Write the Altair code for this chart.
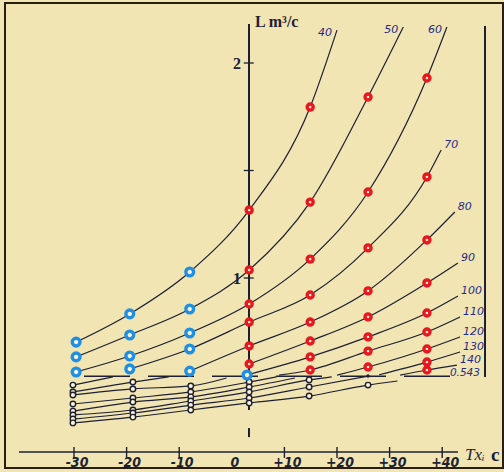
import altair as alt
import pandas as pd

CREAM = "#F1E5B3"
HOLE = "#FBF3D6"
INK = "#1d1f33"
RED = "#E8161E"
BLUE = "#1E8FE6"
NAVY = "#1f2b86"
FRAME = "#2a1d12"

# Scale extents (temperature, °C / flow L, m3/c)
T_MIN, T_MAX = -43.12, 51.56
L_MIN, L_MAX = 0.1163, 2.279

# ---- upper family of curves: temperature, L, marker ('b' blue, 'r' red, '' none)
t_40 = [-29.6, -19.4, -8.0, 3.3, 14.9, 20.0]
l_40 = [0.702, 0.833, 1.028, 1.316, 1.795, 2.153]
k_40 = ["b", "b", "b", "r", "r", ""]

t_50 = [-29.6, -19.4, -8.0, 3.3, 14.9, 25.9, 32.6]
l_50 = [0.633, 0.735, 0.856, 1.037, 1.353, 1.842, 2.167]
k_50 = ["b", "b", "b", "r", "r", "r", ""]

t_60 = [-29.6, -19.4, -8.0, 3.3, 14.9, 25.9, 37.1, 40.9]
l_60 = [0.563, 0.637, 0.744, 0.879, 1.088, 1.400, 1.930, 2.167]
k_60 = ["b", "b", "b", "r", "r", "r", "r", ""]

t_70 = [-19.4, -8.0, 3.3, 14.9, 25.9, 37.1, 39.8]
l_70 = [0.577, 0.670, 0.795, 0.921, 1.140, 1.470, 1.595]
k_70 = ["b", "b", "r", "r", "r", "r", ""]

t_80 = [-8.0, 3.3, 14.9, 25.9, 37.1, 42.4]
l_80 = [0.567, 0.684, 0.795, 0.940, 1.177, 1.307]
k_80 = ["b", "r", "r", "r", "r", ""]

t_90 = [3.3, 14.9, 25.9, 37.1, 43.0]
l_90 = [0.600, 0.707, 0.819, 0.977, 1.070]
k_90 = ["r", "r", "r", "r", ""]

t_100 = [2.9, 14.9, 25.9, 37.1, 43.0]
l_100 = [0.549, 0.633, 0.726, 0.837, 0.916]
k_100 = ["b", "r", "r", "r", ""]

t_110 = [9.0, 14.9, 25.9, 37.1, 43.4]
l_110 = [0.548, 0.572, 0.660, 0.749, 0.819]
k_110 = ["", "r", "r", "r", ""]

t_120 = [20.0, 25.9, 37.1, 43.4]
l_120 = [0.548, 0.586, 0.670, 0.726]
k_120 = ["", "r", "r", ""]

t_130 = [28.0, 37.1, 43.4]
l_130 = [0.550, 0.609, 0.656]
k_130 = ["", "r", ""]

t_140 = [32.0, 37.1, 42.8]
l_140 = [0.548, 0.572, 0.595]
k_140 = ["", "r", ""]

upper = [
    ("40", t_40, l_40, k_40, "top"),
    ("50", t_50, l_50, k_50, "top"),
    ("60", t_60, l_60, k_60, "top"),
    ("70", t_70, l_70, k_70, "side"),
    ("80", t_80, l_80, k_80, "side"),
    ("90", t_90, l_90, k_90, "side"),
    ("100", t_100, l_100, k_100, "side"),
    ("110", t_110, l_110, k_110, "side"),
    ("120", t_120, l_120, k_120, "side"),
    ("130", t_130, l_130, k_130, "side"),
    ("140", t_140, l_140, k_140, "side"),
]

# ---- lower family below the 0.543 line ('k' open black ring, 'd' dot)
t_b1 = [-30.2, -22.6]
l_b1 = [0.502, 0.540]
t_b2 = [-30.2, -18.8, -12.0]
l_b2 = [0.470, 0.516, 0.540]
t_b3 = [-30.2, -18.8, -7.8, -1.0]
l_b3 = [0.456, 0.484, 0.498, 0.535]
t_b4 = [-30.2, -18.8, -7.8, 3.3, 8.5]
l_b4 = [0.414, 0.442, 0.470, 0.516, 0.540]
t_b5 = [-30.2, -18.8, -7.8, 3.3, 12.0]
l_b5 = [0.381, 0.423, 0.447, 0.493, 0.535]
t_b6 = [-30.2, -18.8, -7.8, 3.3, 14.7, 19.0]
l_b6 = [0.363, 0.386, 0.428, 0.470, 0.526, 0.540]
t_b7 = [-30.2, -18.8, -7.8, 3.3, 14.7, 25.9]
l_b7 = [0.344, 0.372, 0.409, 0.442, 0.493, 0.544]
t_b8 = [-30.2, -18.8, -7.8, 3.3, 14.7, 25.9, 31.5]
l_b8 = [0.326, 0.353, 0.386, 0.419, 0.451, 0.502, 0.521]

lower = [("b1", t_b1, l_b1), ("b2", t_b2, l_b2), ("b3", t_b3, l_b3),
         ("b4", t_b4, l_b4), ("b5", t_b5, l_b5), ("b6", t_b6, l_b6),
         ("b7", t_b7, l_b7), ("b8", t_b8, l_b8)]

# reference level
LEVEL = 0.543
level_t = [-28.1, 42.8]

# axis labelling
x_tick_vals = [-30, -20, -10, 10, 20, 30, 40]
x_label_vals = [-30, -20, -10, 0, 10, 20, 30, 40]
x_label_txt = ["-30", "-20", "-10", "0", "+10", "+20", "+30", "+40"]
y_tick_vals = [1.0, 1.5, 2.0]
y_label_vals = [1.0, 2.0]
y_label_txt = ["1", "2"]

AXIS_T = 3.27          # temperature where the L axis stands
AXIS_L = 0.1907        # L level of the temperature axis
RIGHT_T = 48.14        # right-hand frame line

rows = []
for name, ts, ls, ks, grp in upper:
    for i, (t, l, k) in enumerate(zip(ts, ls, ks)):
        rows.append(dict(curve=name, seq=i, T=t, L=l, kind=k))
for name, ts, ls in lower:
    for i, (t, l) in enumerate(zip(ts, ls)):
        last = i == len(ts) - 1
        k = ("d" if name == "b7" else "") if last else "k"
        rows.append(dict(curve=name, seq=i, T=t, L=l, kind=k))
df = pd.DataFrame(rows)

lab_top = pd.DataFrame([dict(txt=n, T=ts[-1], L=ls[-1]) for n, ts, ls, ks, g in upper if g == "top"])
lab_side = pd.DataFrame([dict(txt=n, T=ts[-1], L=ls[-1]) for n, ts, ls, ks, g in upper if g == "side"])
lab_level = pd.DataFrame(dict(txt=["0.543"], T=[level_t[-1]], L=[LEVEL]))
level_df = pd.DataFrame(dict(T=level_t, L=[LEVEL] * len(level_t)))

xs = alt.Scale(domain=[T_MIN, T_MAX], nice=False, zero=False)
ys = alt.Scale(domain=[L_MIN, L_MAX], nice=False, zero=False)
X = alt.X("T:Q", scale=xs, axis=None)
Y = alt.Y("L:Q", scale=ys, axis=None)

base = alt.Chart(df)

curves = base.mark_line(interpolate="monotone", strokeWidth=1.2, color=INK).encode(
    x=X, y=Y, detail="curve:N", order="seq:Q")

level = alt.Chart(level_df).mark_line(strokeWidth=1.4, color=INK, strokeDash=[46, 18]).encode(x=X, y=Y)

black_rings = base.transform_filter(alt.datum.kind == "k").mark_point(
    shape="circle", size=30, fill=HOLE, stroke=INK, strokeWidth=1.4, opacity=1, fillOpacity=1
).encode(x=X, y=Y)
black_dots = base.transform_filter(alt.datum.kind == "d").mark_point(
    shape="circle", size=12, filled=True, color=INK, opacity=1).encode(x=X, y=Y)
red_rings = base.transform_filter(alt.datum.kind == "r").mark_point(
    shape="circle", size=36, fill=HOLE, stroke=RED, strokeWidth=3.4, opacity=1, fillOpacity=1
).encode(x=X, y=Y)
blue_rings = base.transform_filter(alt.datum.kind == "b").mark_point(
    shape="circle", size=60, fill=HOLE, stroke=BLUE, strokeWidth=3.4, opacity=1, fillOpacity=1
).encode(x=X, y=Y)

lbl_font = dict(font="DejaVu Sans", fontStyle="italic", fontSize=11, color=NAVY)
top_labels = alt.Chart(lab_top).mark_text(align="center", dx=-12, dy=3, **lbl_font).encode(x=X, y=Y, text="txt:N")
side_labels = alt.Chart(lab_side).mark_text(align="left", dx=3, dy=-5, **lbl_font).encode(x=X, y=Y, text="txt:N")
level_label = alt.Chart(lab_level).mark_text(
    align="left", baseline="alphabetic", dx=-7, dy=0, font="DejaVu Sans", fontStyle="italic",
    fontSize=10.5, color=NAVY).encode(x=X, y=Y, text="txt:N")

# temperature axis
x_axis = alt.Chart(pd.DataFrame(dict(T=[-40.46], T2=[43.0], L=[AXIS_L]))).mark_rule(
    color=INK, strokeWidth=1.6).encode(x=X, x2="T2:Q", y=Y)
x_ticks = alt.Chart(pd.DataFrame(dict(T=x_tick_vals))).transform_calculate(
    L="0.214", L2="0.163").mark_rule(color=INK, strokeWidth=1.4).encode(
    x=X, y=alt.Y("L:Q", scale=ys, axis=None), y2="L2:Q")
x_labels = alt.Chart(pd.DataFrame(dict(T=x_label_vals, txt=x_label_txt))).transform_calculate(
    L="0.140").mark_text(font="DejaVu Sans Condensed", fontStyle="italic", fontWeight="bold",
                         fontSize=14, color=INK, dx=3).encode(
    x=X, y=alt.Y("L:Q", scale=ys, axis=None), text="txt:N")
x_title = alt.Chart(pd.DataFrame(dict(T=[43.0], L=[AXIS_L]))).mark_text(
    text="Txᵢ", font="Liberation Serif", fontStyle="italic", fontSize=17, color=INK,
    align="left", baseline="alphabetic", dx=7, dy=8).encode(x=X, y=Y)
x_unit = alt.Chart(pd.DataFrame(dict(T=[43.0], L=[AXIS_L]))).mark_text(
    text="c", font="Liberation Serif", fontWeight="bold", fontSize=19, color=INK,
    align="left", baseline="alphabetic", dx=33, dy=9).encode(x=X, y=Y)

# L axis
y_axis = alt.Chart(pd.DataFrame(dict(T=[AXIS_T], L=[2.181], L2=[0.386]))).mark_rule(
    color=INK, strokeWidth=2).encode(x=X, y=Y, y2="L2:Q")
y_tail = alt.Chart(pd.DataFrame(dict(T=[AXIS_T], L=[0.302], L2=[0.260]))).mark_rule(
    color=INK, strokeWidth=2).encode(x=X, y=Y, y2="L2:Q")
y_ticks = alt.Chart(pd.DataFrame(dict(L=y_tick_vals))).transform_calculate(
    T=f"{AXIS_T - 1.0}", T2=f"{AXIS_T + 0.9}").mark_rule(color=INK, strokeWidth=1.3).encode(
    x=alt.X("T:Q", scale=xs, axis=None), x2="T2:Q", y=Y)
y_labels = alt.Chart(pd.DataFrame(dict(L=y_label_vals, txt=y_label_txt))).transform_calculate(
    T=f"{AXIS_T}").mark_text(font="Liberation Serif", fontWeight="bold", fontSize=16, color=INK,
                              align="right", dx=-8, dy=1).encode(
    x=alt.X("T:Q", scale=xs, axis=None), y=Y, text="txt:N")
y_title = alt.Chart(pd.DataFrame(dict(T=[AXIS_T], L=[2.181]))).mark_text(
    text="L m³/c", font="Liberation Serif", fontWeight="bold", fontSize=16, color=INK,
    align="left", baseline="alphabetic", dx=6, dy=3).encode(x=X, y=Y)

right_line = alt.Chart(pd.DataFrame(dict(T=[RIGHT_T], L=[2.172], L2=[0.540]))).mark_rule(
    color=INK, strokeWidth=2).encode(x=X, y=Y, y2="L2:Q")

chart = alt.layer(
    x_axis, x_ticks, x_labels, x_title, x_unit,
    y_axis, y_tail, y_ticks, y_labels, y_title, right_line,
    level, curves, black_rings, black_dots, red_rings, blue_rings,
    top_labels, side_labels, level_label,
).properties(
    width=498, height=465, autosize="none",
    padding={"left": 5, "top": 3, "right": 1, "bottom": 4},
    background=CREAM,
).configure_view(stroke=FRAME, strokeWidth=2, fill=CREAM)

chart.save("out.html", embed_options={"renderer": "svg", "actions": False})
